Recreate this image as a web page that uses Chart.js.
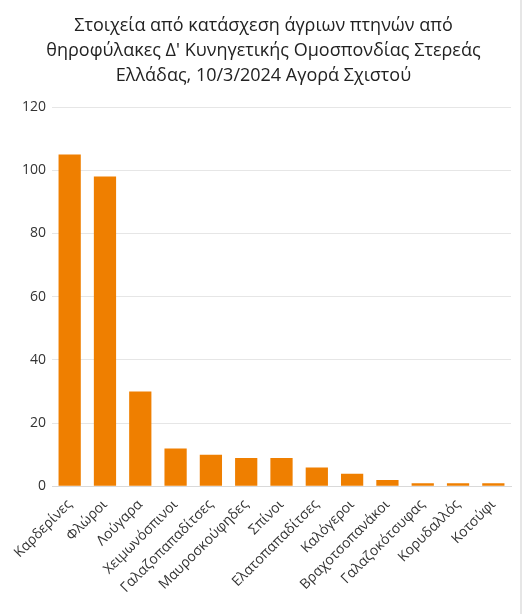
<!DOCTYPE html>
<html>
<head>
<meta charset="utf-8">
<script src="https://cdn.jsdelivr.net/npm/chart.js@4/dist/chart.umd.min.js"></script>
<style>
  html, body { margin: 0; padding: 0; background: #fff; }
  #wrap { width: 520px; height: 614px; border-right: 2px solid #e6e6e6; }
</style>
</head>
<body>
<div id="wrap"><canvas id="c" width="520" height="614"></canvas></div>
<script>
const categories = ['Καρδερίνες', 'Φλώροι', 'Λούγαρα', 'Χειμωνόσπινοι', 'Γαλαζοπαπαδίτσες',
    'Μαυροσκούφηδες', 'Σπίνοι', 'Ελατοπαπαδίτσες', 'Καλόγεροι', 'Βραχοτσοπανάκοι',
    'Γαλαζοκότσυφας', 'Κορυδαλλός', 'Κοτσύφι'];
const counts = [105, 98, 30, 12, 10, 9, 9, 6, 4, 2, 1, 1, 1];
const titleLines = ['Στοιχεία από κατάσχεση άγριων πτηνών από',
    'θηροφύλακες Δ\' Κυνηγετικής Ομοσπονδίας Στερεάς',
    'Ελλάδας, 10/3/2024 Αγορά Σχιστού'];

Chart.defaults.font.family = "'Open Sans', sans-serif";
Chart.defaults.color = '#333';

new Chart(document.getElementById('c'), {
    type: 'bar',
    data: {
        labels: categories,
        datasets: [{
            data: counts,
            backgroundColor: '#ef7f00',
            categoryPercentage: 0.9,
            barPercentage: 0.7
        }]
    },
    options: {
        responsive: false,
        animation: false,
        layout: { padding: { left: 16, right: 9, top: 4, bottom: 16 } },
        plugins: {
            legend: { display: false },
            tooltip: { enabled: false },
            title: {
                display: true,
                text: titleLines,
                color: '#222',
                font: { size: 18, weight: 'normal', lineHeight: 1.39 },
                padding: { top: 9, bottom: 19 }
            }
        },
        scales: {
            x: {
                grid: { display: false },
                border: { color: '#d9d9d9' },
                ticks: { maxRotation: 45, minRotation: 45, font: { size: 14 }, color: '#333', padding: 2 }
            },
            y: {
                min: 0,
                max: 120,
                ticks: { stepSize: 20, font: { size: 14 }, color: '#333', padding: 6 },
                grid: { color: '#e6e6e6', drawTicks: false },
                border: { display: false }
            }
        }
    }
});
</script>
</body>
</html>
